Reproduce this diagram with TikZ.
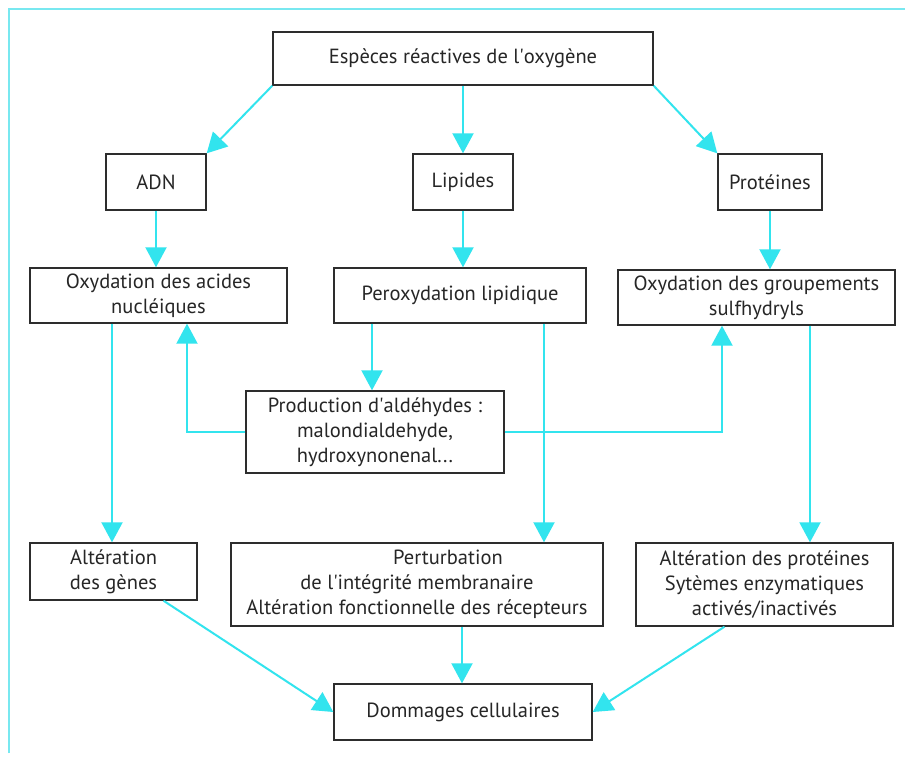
\documentclass[tikz,border=0pt]{standalone}
\usepackage{fontspec}
\setmainfont{PT Sans}
\usetikzlibrary{arrows.meta,calc}
\definecolor{cy}{RGB}{50,228,238}
\definecolor{cyb}{RGB}{120,232,240}
\definecolor{bx}{RGB}{45,45,45}
\tikzset{
  box/.style={draw=bx,line width=1.4pt,fill=white,align=center,inner sep=0pt,
    font=\fontsize{20.5}{25}\selectfont,text=black!85},
  conn/.style={draw=cy,line width=2pt,-{Triangle[length=20pt,width=21pt]}},
}
\begin{document}
\begin{tikzpicture}[x=1pt,y=-1pt]
\useasboundingbox (0,0) rectangle (905,758);
\fill[white] (0,0) rectangle (905,758);
\draw[cyb,line width=2.2pt] (9,753) -- (9,9) -- (905,9);

\node[box,minimum width=380pt,minimum height=53pt] (esp) at (463,58.5) {Espèces réactives de l\textquotesingle oxygène};
\node[box,minimum width=100pt,minimum height=56pt] (adn) at (156,182) {ADN};
\node[box,minimum width=100pt,minimum height=56pt] (lip) at (463,182) {Lipides};
\node[box,minimum width=104pt,minimum height=56pt] (pro) at (770,182) {Protéines};
\node[box,minimum width=257pt,minimum height=55pt] (oxa) at (158.5,295.5) {Oxydation des acides\\nucléiques};
\node[box,minimum width=252pt,minimum height=55pt] (per) at (460,295.5) {Peroxydation lipidique};
\node[box,minimum width=277pt,minimum height=55pt] (oxg) at (756.5,297.5) {Oxydation des groupements\\sulfhydryls};
\node[box,minimum width=258pt,minimum height=82pt] (prod) at (375,432) {Production d\textquotesingle aldéhydes :\\malondialdehyde,\\hydroxynonenal...};
\node[box,minimum width=167pt,minimum height=57pt] (gen) at (113.5,571.5) {Altération\\des gènes};
\node[box,minimum width=372pt,minimum height=83pt] (pert) at (417,584.5) {\hspace*{62pt}Perturbation\\de l\textquotesingle intégrité membranaire\\Altération fonctionnelle des récepteurs};
\node[box,minimum width=257pt,minimum height=83pt] (altp) at (764.5,584.5) {Altération des protéines\\Sytèmes enzymatiques\\activés/inactivés};
\node[box,minimum width=258pt,minimum height=56pt] (dom) at (463,712) {Dommages cellulaires};

\draw[conn] (esp.south west) -- (adn.north east);
\draw[conn] (esp.south) -- (lip.north);
\draw[conn] (esp.south east) -- (pro.north west);
\draw[conn] (adn.south) -- (adn.south |- oxa.north);
\draw[conn] (lip.south) -- (lip.south |- per.north);
\draw[conn] (pro.south) -- (pro.south |- oxg.north);
\draw[conn] ([xshift=-88pt]per.south) -- ([xshift=-88pt]per.south |- prod.north);
\draw[conn] (prod.west) -| ([xshift=28.5pt]oxa.south);
\draw[conn] (prod.east) -| ([xshift=-34.5pt]oxg.south);
\draw[conn] ([xshift=-46.5pt]oxa.south) -- ([xshift=-46.5pt]oxa.south |- gen.north);
\draw[conn] ([xshift=84pt]per.south) -- ([xshift=84pt]per.south |- pert.north);
\draw[conn] ([xshift=53.5pt]oxg.south) -- ([xshift=53.5pt]oxg.south |- altp.north);
\draw[conn] ([xshift=50pt]gen.south) -- (dom.west);
\draw[conn] ([xshift=45pt]pert.south) -- ([xshift=45pt]pert.south |- dom.north);
\draw[conn] ([xshift=-40pt]altp.south) -- (dom.east);
\end{tikzpicture}
\end{document}
